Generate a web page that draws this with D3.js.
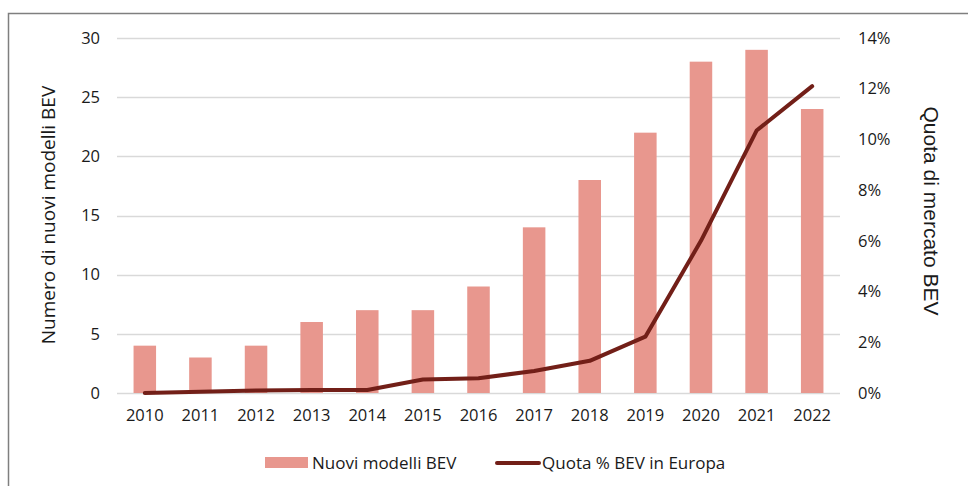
<!DOCTYPE html>
<html>
<head>
<meta charset="utf-8">
<script src="https://cdn.jsdelivr.net/npm/d3@7"></script>
<style>
  body { margin: 0; background: #fff; }
  svg { display: block; }
</style>
</head>
<body>
<div id="chart"></div>
<script>
const years = ["2010", "2011", "2012", "2013", "2014", "2015", "2016", "2017", "2018", "2019", "2020", "2021", "2022"];
const newModels = [4, 3, 4, 6, 7, 7, 9, 14, 18, 22, 28, 29, 24];
const bevShare = [0.0, 0.05, 0.1, 0.12, 0.12, 0.53, 0.58, 0.87, 1.27, 2.22, 6.0, 10.35, 12.1];
const leftTicks = [0, 5, 10, 15, 20, 25, 30];
const rightTicks = [0, 2, 4, 6, 8, 10, 12, 14];

const width = 968, height = 486;
const plot = { left: 117, right: 840, top: 38, bottom: 393 };
const tickFont = "'Open Sans', sans-serif";
const textColor = "#1a1a1a";

const svg = d3.select("#chart")
    .append("svg")
    .attr("width", width)
    .attr("height", height);

// frame (only top and left edges are visible in the picture)
svg.append("path")
    .attr("d", `M8.5,${height} V13.5 H${width}`)
    .attr("fill", "none")
    .attr("stroke", "#7f7f7f")
    .attr("stroke-width", 1.5);

const x = d3.scaleBand()
    .domain(years)
    .range([plot.left, plot.right])
    .paddingInner(0.595)
    .paddingOuter(0.2975);

const yLeft = d3.scaleLinear().domain([0, 30]).range([plot.bottom, plot.top]);
const yRight = d3.scaleLinear().domain([0, 14]).range([plot.bottom, plot.top]);

// gridlines
svg.append("g")
    .selectAll("line")
    .data(leftTicks)
    .join("line")
    .attr("x1", plot.left)
    .attr("x2", plot.right)
    .attr("y1", d => Math.round(yLeft(d)) + 0.5)
    .attr("y2", d => Math.round(yLeft(d)) + 0.5)
    .attr("stroke", "#d9d9d9")
    .attr("stroke-width", 1.5);

// bars
svg.append("g")
    .selectAll("rect")
    .data(years)
    .join("rect")
    .attr("x", d => x(d))
    .attr("width", x.bandwidth())
    .attr("y", (d, i) => yLeft(newModels[i]))
    .attr("height", (d, i) => yLeft(0) - yLeft(newModels[i]))
    .attr("fill", "#e8978e");

// line
const line = d3.line()
    .x((d, i) => x(years[i]) + x.bandwidth() / 2)
    .y(d => yRight(d));

svg.append("path")
    .datum(bevShare)
    .attr("d", line)
    .attr("fill", "none")
    .attr("stroke", "#721f18")
    .attr("stroke-width", 4)
    .attr("stroke-linecap", "round")
    .attr("stroke-linejoin", "round");

function styleTicks(g) {
    g.select(".domain").remove();
    g.selectAll("text")
        .style("font-family", tickFont)
        .style("font-size", "16.5px")
        .attr("fill", textColor);
}

// left axis
svg.append("g")
    .attr("transform", `translate(${plot.left},0)`)
    .call(d3.axisLeft(yLeft).tickValues(leftTicks).tickSize(0).tickPadding(17))
    .call(styleTicks);

// right axis
svg.append("g")
    .attr("transform", `translate(${plot.right},0)`)
    .call(d3.axisRight(yRight).tickValues(rightTicks).tickSize(0).tickPadding(18).tickFormat(d => d + "%"))
    .call(styleTicks);

// x axis
svg.append("g")
    .attr("transform", `translate(0,${plot.bottom})`)
    .call(d3.axisBottom(x).tickSize(0).tickPadding(16))
    .call(styleTicks);

// axis titles
svg.append("text")
    .attr("transform", `translate(55,215) rotate(-90)`)
    .attr("text-anchor", "middle")
    .style("font-family", "'Open Sans', sans-serif")
    .style("font-size", "19px")
    .attr("fill", textColor)
    .text("Numero di nuovi modelli BEV");

svg.append("text")
    .attr("transform", `translate(924,211) rotate(90)`)
    .attr("text-anchor", "middle")
    .style("font-family", "'Liberation Sans', Arial, sans-serif")
    .style("font-size", "21px")
    .attr("fill", textColor)
    .text("Quota di mercato BEV");

// legend
const legend = svg.append("g").attr("transform", "translate(0,463)");
legend.append("rect")
    .attr("x", 265).attr("y", -6)
    .attr("width", 43).attr("height", 11)
    .attr("fill", "#e8978e");
legend.append("text")
    .attr("x", 312).attr("y", 0)
    .attr("dy", "0.35em")
    .style("font-family", tickFont)
    .style("font-size", "17px")
    .attr("fill", textColor)
    .text("Nuovi modelli BEV");
legend.append("line")
    .attr("x1", 497).attr("x2", 539)
    .attr("y1", 0).attr("y2", 0)
    .attr("stroke", "#721f18")
    .attr("stroke-width", 4)
    .attr("stroke-linecap", "round");
legend.append("text")
    .attr("x", 542).attr("y", 0)
    .attr("dy", "0.35em")
    .style("font-family", tickFont)
    .style("font-size", "17px")
    .attr("fill", textColor)
    .text("Quota % BEV in Europa");
</script>
</body>
</html>
